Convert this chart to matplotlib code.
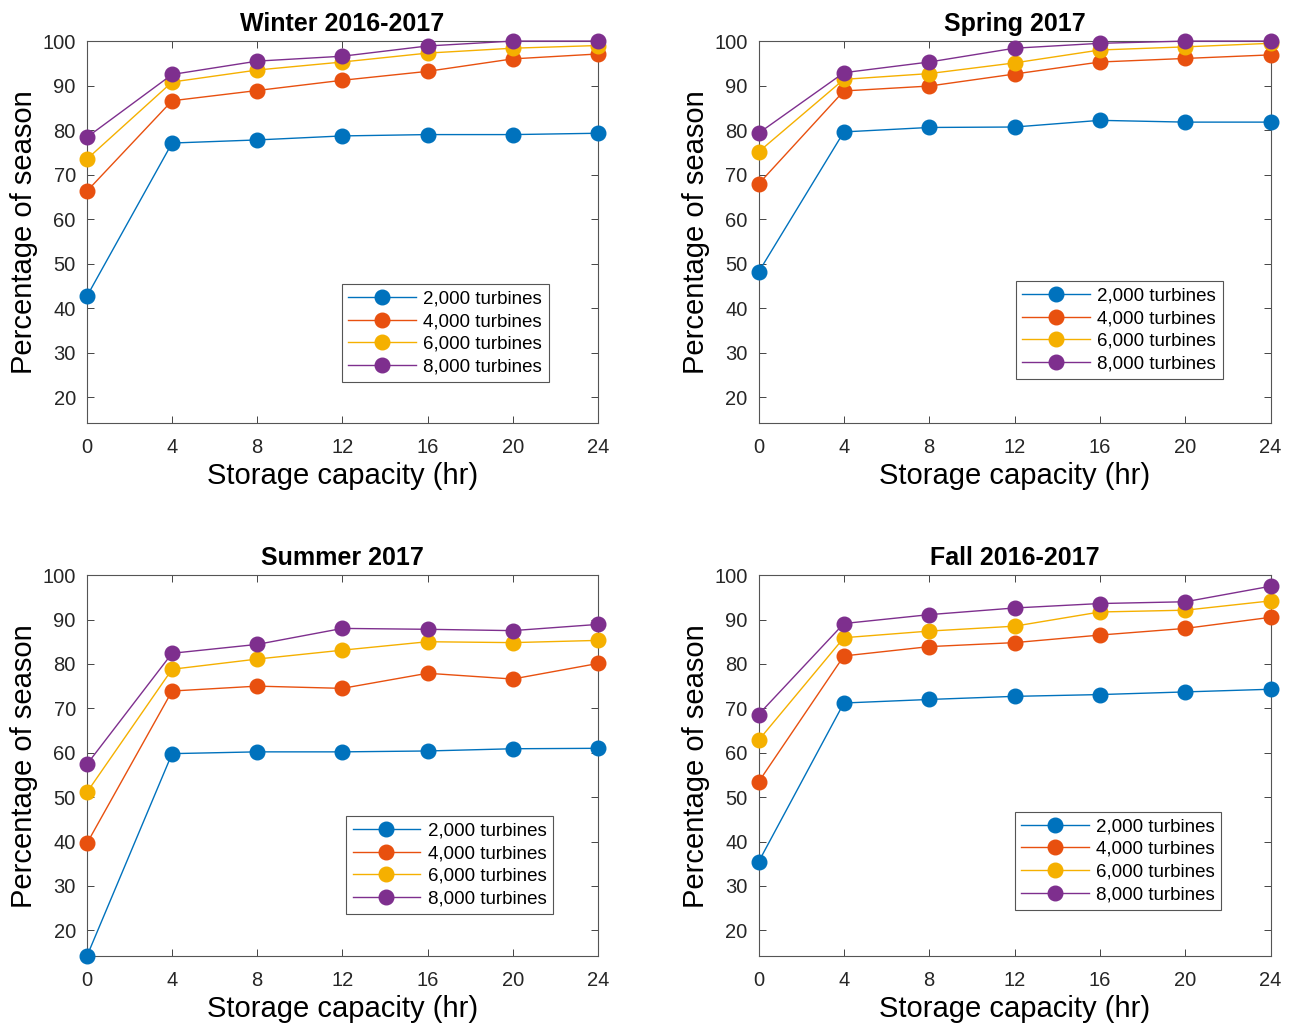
import numpy as np
import matplotlib
matplotlib.use('Agg')
import matplotlib.pyplot as plt

plt.rcParams['font.family'] = ['Liberation Sans', 'DejaVu Sans']

# Data
storage_hr = [0, 4, 8, 12, 16, 20, 24]
labels = ['2,000 turbines', '4,000 turbines', '6,000 turbines', '8,000 turbines']
colors = ['#0072BD', '#E8500F', '#F5B000', '#7E2F8E']

winter = [
    [42.7, 77.1, 77.8, 78.7, 79.0, 79.0, 79.3],
    [66.3, 86.6, 88.9, 91.2, 93.2, 96.0, 97.1],
    [73.5, 90.8, 93.5, 95.3, 97.3, 98.4, 99.0],
    [78.4, 92.5, 95.5, 96.6, 98.9, 100.0, 100.0],
]
spring = [
    [48.1, 79.6, 80.6, 80.7, 82.2, 81.8, 81.8],
    [67.9, 88.8, 89.9, 92.6, 95.3, 96.1, 96.9],
    [75.1, 91.4, 92.7, 95.1, 98.0, 98.7, 99.5],
    [79.3, 92.9, 95.3, 98.4, 99.5, 100.0, 100.0],
]
summer = [
    [14.2, 59.8, 60.2, 60.2, 60.4, 60.9, 61.0],
    [39.6, 73.9, 75.0, 74.5, 77.9, 76.6, 80.1],
    [51.1, 78.8, 81.1, 83.1, 85.0, 84.8, 85.3],
    [57.4, 82.4, 84.4, 88.0, 87.8, 87.5, 88.9],
]
fall = [
    [35.4, 71.2, 72.0, 72.7, 73.1, 73.7, 74.3],
    [53.4, 81.8, 83.9, 84.8, 86.5, 88.0, 90.5],
    [62.8, 85.9, 87.4, 88.5, 91.7, 92.1, 94.2],
    [68.6, 89.1, 91.1, 92.6, 93.6, 94.0, 97.5],
]

seasons = ['Winter 2016-2017', 'Spring 2017', 'Summer 2017', 'Fall 2016-2017']
season_data = [winter, spring, summer, fall]

fig = plt.figure(figsize=(12.9, 10.27), dpi=100)

positions = [
    [0.0674, 0.588, 0.396, 0.372],
    [0.588, 0.588, 0.397, 0.372],
    [0.0674, 0.069, 0.396, 0.371],
    [0.588, 0.069, 0.397, 0.371],
]
legend_anchor = [(0.904, 0.107), (0.906, 0.115), (0.912, 0.11), (0.904, 0.121)]

for i in range(4):
    ax = fig.add_axes(positions[i])
    for s in range(4):
        ax.plot(storage_hr, season_data[i][s], '-o', color=colors[s], lw=1.0,
                markersize=10.5, label=labels[s], clip_on=False, zorder=3 + s)
    ax.set_xlim(0, 24)
    ax.set_ylim(14.2, 100)
    ax.set_xticks(storage_hr)
    ax.set_yticks(np.arange(20, 101, 10))
    ax.tick_params(direction='in', top=True, right=True, length=5,
                   width=0.7, color='#444444', labelsize=14.5, labelcolor='#262626')
    ax.tick_params(axis='x', pad=11)
    ax.tick_params(axis='y', pad=8)
    for sp in ax.spines.values():
        sp.set_color('#555555')
        sp.set_linewidth(0.8)
    ax.set_title(seasons[i], fontsize=18, fontweight='bold', pad=7)
    ax.set_xlabel('Storage capacity (hr)', fontsize=21, labelpad=3)
    ax.set_ylabel('Percentage of season', fontsize=21, labelpad=3)
    leg = ax.legend(loc='lower right', bbox_to_anchor=legend_anchor[i],
                    fontsize=13.5, handlelength=3.6, labelspacing=0.3,
                    borderpad=0.35, handletextpad=0.4, fancybox=False,
                    framealpha=1, edgecolor='#555555', borderaxespad=0)
    leg.get_frame().set_linewidth(0.8)

fig.savefig('out.png', dpi=100)
